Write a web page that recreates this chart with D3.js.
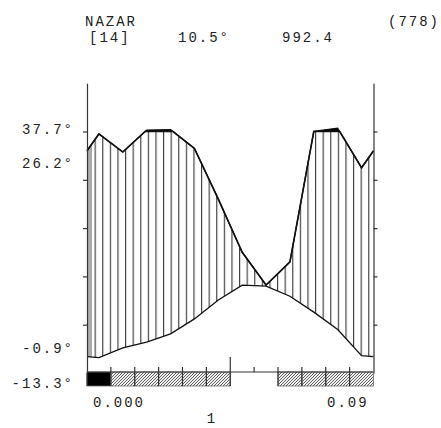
<!DOCTYPE html>
<html>
<head>
<meta charset="utf-8">
<script src="https://cdnjs.cloudflare.com/ajax/libs/d3/7.8.5/d3.min.js"></script>
<style>
  body { margin: 0; background: white; }
  text { font-family: "Liberation Mono", monospace; font-size: 14px; fill: #222; letter-spacing: 2px; }
</style>
</head>
<body>
<div id="chart"></div>
<script>
// ================================ data (climate diagram, one value per month)
var months = ["Jan", "Feb", "Mar", "Apr", "May", "Jun", "Jul", "Aug", "Sep", "Oct", "Nov", "Dec"];
var temperature = [3.2, 5.2, 6.4, 8.1, 11.2, 15.1, 18.2, 18.0, 15.9, 12.6, 9.0, 3.6];   // deg C
var precipitation = [99, 91.5, 106, 108, 93, 72, 50, 36.4, 46, 101, 114, 85];       // mm
var frost = [2, 1, 1, 1, 1, 1, 0, 0, 1, 1, 1, 1];  // 2 = black, 1 = hatched, 0 = none
var tempTicks = [10, 20, 30, 40, 50];

var station = "NAZAR";
var years = "[14]";
var meanTemp = "10.5°";
var totalPrec = "992.4";
var altitude = "(778)";
var sideLabels = ["37.7°", "26.2°", "-0.9°", "-13.3°"];
var bottomLabels = ["0.000", "0.09", "1"];

// ================================ layout
var svgWidth = 441;
var svgHeight = 428;

var svg = d3.select("#chart")
  .append("svg")
  .attr("width", svgWidth)
  .attr("height", svgHeight);

// x: months 0..12 across the plot, y: 10 deg = 20 mm
var x = d3.scaleLinear().domain([0, 12]).range([87, 373.5]);
var yT = d3.scaleLinear().domain([0, 60]).range([373, 83.2]);
// above 100 mm the scale is reduced 1:10
var yP = d3.scaleLinear()
  .domain([0, 100, 200])
  .range([yT(0), yT(50), yT(50) - (yT(0) - yT(50)) / 10]);

var lineTop = 372;    // base line under the plot
var barBottom = 386;

// points at month centres, plus both edges (between Dec and Jan)
function curvePoints(values, scale) {
  var n = values.length;
  var edge = (scale(values[n - 1]) + scale(values[0])) / 2;
  var pts = [[x(0), edge]];
  values.forEach(function (v, i) { pts.push([x(i + 0.5), scale(v)]); });
  pts.push([x(12), edge]);
  return pts;
}
var tPts = curvePoints(temperature, yT);
var pPts = curvePoints(precipitation, yP);

// split the rain curve where it crosses the 100 mm line
var y100 = yP(100);
var pFull = [], pFlat = [];
pPts.forEach(function (p, i) {
  if (i > 0) {
    var q = pPts[i - 1];
    if ((q[1] - y100) * (p[1] - y100) < 0) {
      var t = (y100 - q[1]) / (p[1] - q[1]);
      var c = [q[0] + t * (p[0] - q[0]), y100];
      pFull.push(c);
      pFlat.push(c);
    }
  }
  pFull.push(p);
  pFlat.push([p[0], Math.max(p[1], y100)]);
});

// temperature at the same x positions as the rain curve
var tAt = d3.scaleLinear().domain(tPts.map(d => d[0])).range(tPts.map(d => d[1]));

// ================================ patterns
var defs = svg.append("defs");

defs.append("pattern")
  .attr("id", "vhatch")
  .attr("patternUnits", "userSpaceOnUse")
  .attr("x", x(0))
  .attr("width", 7.6)
  .attr("height", 20)
  .append("line")
  .attr("x1", 0.6).attr("x2", 0.6)
  .attr("y1", 0).attr("y2", 20)
  .style("stroke", "#333")
  .style("stroke-width", 1.1);

var dh = defs.append("pattern")
  .attr("id", "dhatch")
  .attr("patternUnits", "userSpaceOnUse")
  .attr("width", 3)
  .attr("height", 3);
dh.append("rect").attr("width", 3).attr("height", 3).style("fill", "#eee");
dh.append("path")
  .attr("d", "M-1,1 l2,-2 M0,3 l3,-3 M2,4 l2,-2")
  .style("stroke", "#555")
  .style("stroke-width", 0.9);

// ================================ humid area (vertical hatch) and >100 mm (black)
var band = d3.area()
  .x(d => d[0])
  .y0(d => tAt(d[0]))
  .y1(d => d[1]);

svg.append("path")
  .datum(pFlat)
  .attr("d", band)
  .style("fill", "url(#vhatch)");

// grey band along the left edge
svg.append("path")
  .datum(pFlat.filter(d => d[0] <= x(0.5)))
  .attr("d", band)
  .attr("transform", null)
  .style("fill", "#aaa")
  .attr("clip-path", "url(#leftstrip)");
defs.append("clipPath").attr("id", "leftstrip")
  .append("rect")
  .attr("x", x(0)).attr("y", 0)
  .attr("width", 5).attr("height", svgHeight);

var over = d3.area()
  .x(d => d[0])
  .y0((d, i) => pFlat[i][1])
  .y1(d => d[1]);

svg.append("path")
  .datum(pFull)
  .attr("d", over)
  .style("fill", "black");

// curves
var line = d3.line();

svg.append("path")
  .datum(pFull)
  .attr("d", line)
  .style("fill", "none")
  .style("stroke", "#111")
  .style("stroke-width", 1.3);

svg.append("path")
  .datum(pFlat)
  .attr("d", line)
  .style("fill", "none")
  .style("stroke", "#111")
  .style("stroke-width", 1.6);

svg.append("path")
  .datum(tPts)
  .attr("d", line)
  .style("fill", "none")
  .style("stroke", "#111")
  .style("stroke-width", 1.3);

// ================================ axes
var leftAxis = d3.axisLeft(yT).tickValues(tempTicks).tickSize(4).tickSizeOuter(0).tickFormat("");
var rightAxis = d3.axisRight(yT).tickValues(tempTicks).tickSize(4).tickSizeOuter(0).tickFormat("");

svg.append("g")
  .attr("transform", `translate(${x(0)}, 0)`)
  .call(leftAxis);

svg.append("g")
  .attr("transform", `translate(${x(12)}, 0)`)
  .call(rightAxis);

svg.selectAll(".domain, .tick line")
  .style("stroke", "#333")
  .style("stroke-width", 1.2);

// left axis runs down to the frost bar
svg.append("line")
  .attr("x1", x(0)).attr("x2", x(0))
  .attr("y1", yT(0)).attr("y2", barBottom)
  .style("stroke", "#333").style("stroke-width", 1.2);

// ================================ frost bar
svg.selectAll(".frost")
  .data(frost)
  .enter()
  .append("rect")
  .attr("class", "frost")
  .attr("x", (d, i) => x(i))
  .attr("y", lineTop)
  .attr("width", x(1) - x(0))
  .attr("height", barBottom - lineTop)
  .style("fill", d => d == 2 ? "black" : (d == 1 ? "url(#dhatch)" : "none"))
  .style("stroke", d => d ? "#666" : "none")
  .style("stroke-width", 0.8);

svg.append("line")
  .attr("x1", x(0)).attr("x2", x(12))
  .attr("y1", lineTop).attr("y2", lineTop)
  .style("stroke", "#333").style("stroke-width", 1.2);

// month ticks, the middle one longer
svg.selectAll(".mtick")
  .data(d3.range(1, 12))
  .enter()
  .append("line")
  .attr("class", "mtick")
  .attr("x1", k => x(k))
  .attr("x2", k => x(k))
  .attr("y1", k => k == 6 ? lineTop - 15 : lineTop - 5)
  .attr("y2", k => (frost[k - 1] || frost[k]) ? barBottom : lineTop)
  .style("stroke", "#333")
  .style("stroke-width", 1.2);

// ================================ texts
svg.append("text").attr("x", 85).attr("y", 26).text(station);
svg.append("text").attr("x", 388).attr("y", 26).text(altitude);
svg.append("text").attr("x", 89).attr("y", 42).text(years);
svg.append("text").attr("x", 178).attr("y", 42).text(meanTemp);
svg.append("text").attr("x", 282).attr("y", 42).text(totalPrec);

var sideY = [134, 168, 353, 388];
svg.selectAll(".side")
  .data(sideLabels)
  .enter()
  .append("text")
  .attr("class", "side")
  .attr("x", 74)
  .attr("y", (d, i) => sideY[i])
  .style("text-anchor", "end")
  .text(d => d);

svg.append("text").attr("x", 93).attr("y", 407).text(bottomLabels[0]);
svg.append("text").attr("x", 327).attr("y", 407).text(bottomLabels[1]);
svg.append("text").attr("x", 212).attr("y", 423).style("text-anchor", "middle").text(bottomLabels[2]);
</script>
</body>
</html>
